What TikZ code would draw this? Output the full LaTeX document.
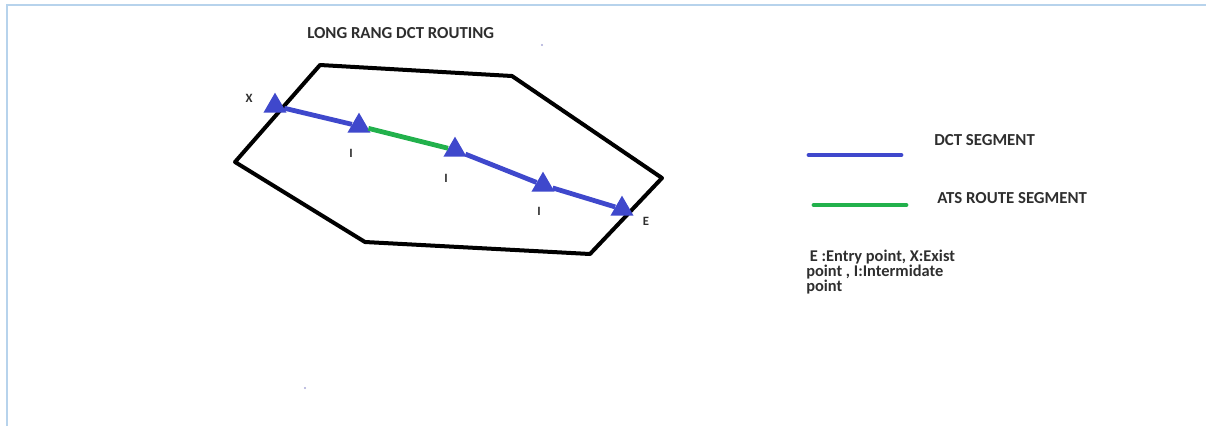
\documentclass[tikz,border=0pt]{standalone}
\usepackage{fontspec}
\setmainfont{Carlito}
\usetikzlibrary{positioning,shapes.geometric}
\definecolor{Ink}{HTML}{2E2E2E}
\definecolor{Route}{HTML}{3F48CC}
\definecolor{Ats}{HTML}{22B14C}
\definecolor{Frame}{HTML}{B7D3EC}
\definecolor{Speck}{HTML}{A9A9D8}
\tikzset{
  fixpoint/.style={regular polygon,regular polygon sides=3,fill=Route,minimum size=20pt,inner sep=0pt},
  boundary/.style={draw=black,line width=3pt,line join=round},
  dctline/.style={draw=Route,line width=3.6pt},
  atsline/.style={draw=Ats,line width=3.6pt},
  keyline/.style={line width=3.6pt,line cap=round},
  headtext/.style={font=\bfseries\fontsize{12.6}{15}\selectfont,text=Ink,inner sep=0pt,anchor=base west},
  ptlabel/.style={font=\bfseries\fontsize{9.5}{10}\selectfont,text=Ink,inner sep=0pt,anchor=base},
  notetext/.style={font=\bfseries\fontsize{12.3}{11.25}\selectfont,text=Ink,inner sep=0pt,anchor=base west,align=left}
}

\begin{document}
\begin{tikzpicture}[x=0.75pt,y=-0.75pt]
  \useasboundingbox (0,0) rectangle (1206,426);
  % frame of the screenshot
  \draw[Frame,line width=1.2pt] (7,426) -- (7,5) -- (1206,5);
  \fill[Speck] (542,45) circle (0.9pt);
  \fill[Speck] (305,388) circle (0.9pt);

  \node[headtext] (title) at (307,38) {LONG RANG DCT ROUTING};

  % airspace boundary
  \draw[boundary] (320,65) -- (512,76) -- (662,178) -- (590,254) -- (365,242) -- (235,162) -- cycle;

  % route points
  \node[fixpoint] (xpt) at (275,106) {};
  \node[fixpoint] (ione) at (359,126) {};
  \node[fixpoint] (itwo) at (455,150) {};
  \node[fixpoint] (ithree) at (543,185) {};
  \node[fixpoint] (ept) at (622,209) {};

  \draw[dctline] (xpt) -- (ione);
  \draw[atsline] (ione) -- (itwo);
  \draw[dctline] (itwo) -- (ithree);
  \draw[dctline] (ithree) -- (ept);

  \node[ptlabel] (xlab) at (249,102) {X};
  \node[ptlabel] (ionelab) at (351,157) {I};
  \node[ptlabel] (itwolab) at (446,182) {I};
  \node[ptlabel] (ithreelab) at (539,215) {I};
  \node[ptlabel] (elab) at (646,225) {E};

  % legend
  \node[headtext] (dctkey) at (934,145) {DCT SEGMENT};
  \node[headtext] (atskey) at (937,203) {ATS ROUTE SEGMENT};
  \draw[keyline,Route] (809,155) -- (901,155);
  \draw[keyline,Ats] (814,205) -- (906,205);
  \node[notetext] (note) at (806,291) {\ E :Entry point, X:Exist\\point , I:Intermidate\\point};
\end{tikzpicture}
\end{document}
